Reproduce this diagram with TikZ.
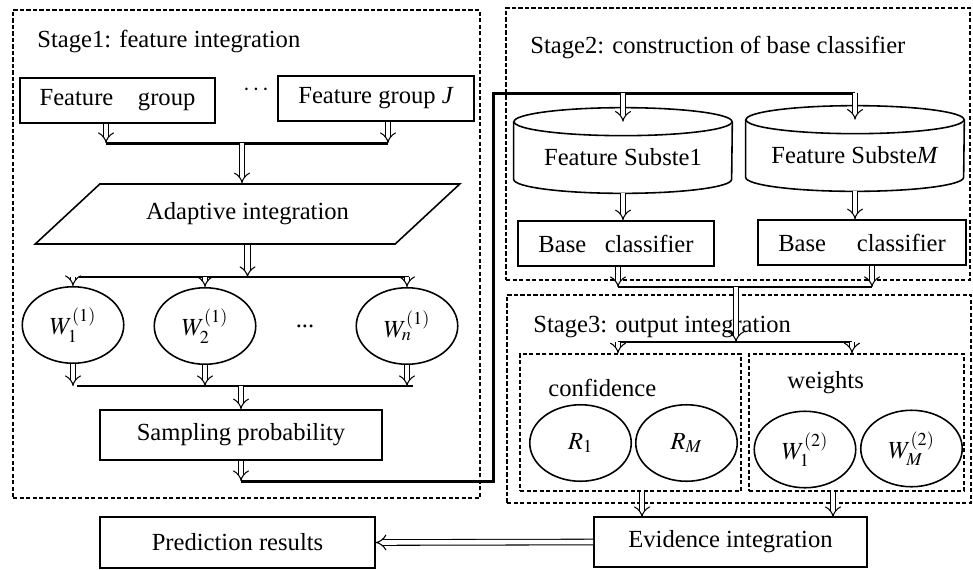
\documentclass[tikz,border=0pt]{standalone}
\usepackage{mathptmx}
\usepackage{fontspec}
\setmainfont{Liberation Serif}
\usetikzlibrary{arrows.meta,shapes.geometric,calc}

\begin{document}
\begin{tikzpicture}[
  x=0.02cm, y=-0.02cm,
  every node/.append style={font=\fontsize{14}{16}\selectfont},
  box/.style={draw,line width=0.9pt,inner sep=2pt},
  oval/.style={draw,ellipse,line width=0.9pt,minimum width=2.03cm,minimum height=1.53cm,inner sep=0pt},
  stageframe/.style={draw,line width=0.8pt,dash pattern=on 2.4pt off 1.3pt},
  store/.style={minimum width=4.36cm,minimum height=1.42cm,inner sep=0pt},
  rim/.style={line width=0.9pt},
  dbl/.style={double,double distance=2.6pt,line width=0.6pt,-{Implies}},
  bus/.style={line width=1.7pt},
  wire/.style={line width=1.1pt},
  title/.style={anchor=west,inner sep=0pt}
]
  \useasboundingbox (0,0) rectangle (973,569);

  % stage frames
  \node[stageframe,minimum width=9.34cm,minimum height=9.76cm] (stageA) at (246.5,254) {};
  \node[stageframe,minimum width=9.28cm,minimum height=5.44cm] (stageB) at (738,144) {};
  \node[stageframe,minimum width=9.28cm,minimum height=4.16cm] (stageC) at (739,399) {};
  \node[title] (titleA) at (37,41) {Stage1: feature integration};
  \node[title] (titleB) at (530,47) {Stage2: construction of base classifier};
  \node[title] (titleC) at (533,327) {Stage3: output integration};

  % stage 1
  \node[box,minimum width=3.9cm,minimum height=0.9cm] (fg1) at (117.5,100.5) {Feature\quad group};
  \node (gdots) at (256,90) {$\cdots$};
  \node[box,minimum width=3.92cm,minimum height=0.9cm] (fgJ) at (376,98.5) {Feature group \textit{J}};
  \node[draw,line width=0.9pt,trapezium,trapezium left angle=36,trapezium right angle=144,
        trapezium stretches=true,minimum width=8.5cm,minimum height=1.2cm] (adapt) at (247.5,214) {Adaptive integration};
  \node[oval] (w1) at (73,325) {$W_1^{(1)}$};
  \node[oval] (w2) at (205,326) {$W_2^{(1)}$};
  \node (wdots) at (305,326) {...};
  \node[oval] (wn) at (407,326) {$W_n^{(1)}$};
  \node[box,minimum width=5.64cm,minimum height=1cm] (samp) at (241,435) {Sampling probability};

  % stage 2
  \node[store] (sub1) at (623,157.5) {Feature Subste1};
  \node[store] (sub2) at (855,155.5) {Feature Subste\textit{M}};
  \foreach \s in {sub1,sub2} {
    \draw[rim] (\s.north west) -- ($(\s.south west)+(0,-14)$)
      arc[start angle=180,end angle=360,x radius=2.18cm,y radius=0.28cm] -- (\s.north east);
    \draw[rim] (\s.north) ellipse[x radius=2.18cm,y radius=0.28cm];
  }
  \node[box,minimum width=3.92cm,minimum height=0.9cm] (base1) at (616,243.5) {Base\hspace{0.75em}classifier};
  \node[box,minimum width=4.16cm,minimum height=0.9cm] (base2) at (862,242.5) {Base\hspace{1.25em}classifier};

  % stage 3
  \node[stageframe,minimum width=4.42cm,minimum height=2.74cm] (conf) at (630.5,422.5) {};
  \node[stageframe,minimum width=4.3cm,minimum height=2.74cm] (wgt) at (856.5,422.5) {};
  \node[title] (confT) at (548,388) {confidence};
  \node[title] (wgtT) at (787,383) {weights};
  \node[oval] (r1) at (580.5,443) {$R_1$};
  \node[oval] (rM) at (686.5,443) {$R_M$};
  \node[oval] (u1) at (805,449.5) {$W_1^{(2)}$};
  \node[oval] (uM) at (911.5,448.5) {$W_M^{(2)}$};

  \node[box,minimum width=5.46cm,minimum height=1cm] (eva) at (730.5,542) {Evidence integration};
  \node[box,minimum width=5.5cm,minimum height=1.02cm] (pred) at (237.5,542.5) {Prediction results};

  % junctions
  \coordinate (busAl) at (106,143);
  \coordinate (busAr) at (388,143);
  \coordinate (busA) at (242,143);
  \coordinate (busBl) at (79,277);
  \coordinate (busBr) at (409,277);
  \coordinate (busCl) at (77,386);
  \coordinate (busCr) at (413,386);
  \coordinate (feedA) at (493,481);
  \coordinate (feedB) at (493,93);
  \coordinate (busDl) at (618,287);
  \coordinate (busDr) at (872,287);
  \coordinate (busD) at (736,287);
  \coordinate (busEl) at (618,342);
  \coordinate (busEr) at (852,342);
  \coordinate (busE) at (736,342);
  \coordinate (outL) at (642,517);
  \coordinate (outR) at (833,517);

  % stage 1 connectors
  \draw[dbl] (busAl |- fg1.south) -- (busAl);
  \draw[dbl] (busAr |- fgJ.south) -- (busAr);
  \draw[bus] (busAl) -- (busAr);
  \draw[dbl] (busA) -- (busA |- adapt.north);
  \draw[dbl] (adapt.south) -- (adapt.south |- busBl);
  \draw[wire] (busBl) -- (busBr);
  \foreach \w in {w1,w2,wn}
    \draw[dbl] (\w.north |- busBl) -- (\w.north);
  \foreach \w in {w1,w2,wn}
    \draw[dbl] (\w.south) -- (\w.south |- busCl);
  \draw[wire] (busCl) -- (busCr);
  \draw[dbl] (samp.north |- busCl) -- (samp.north);

  % feed to stage 2
  \draw[dbl] (samp.south) -- (samp.south |- feedA);
  \draw[bus] (samp.south |- feedA) -- (feedA) -- (feedB) -- (sub2.north |- feedB);
  \draw[dbl] (sub1.north |- feedB) -- (sub1.north);
  \draw[dbl] (sub2.north |- feedB) -- (sub2.north);
  \draw[dbl] (sub1.south) -- (sub1.south |- base1.north);
  \draw[dbl] (sub2.south) -- (sub2.south |- base2.north);

  % stage 2 to stage 3
  \draw[dbl] (busDl |- base1.south) -- (busDl);
  \draw[dbl] (busDr |- base2.south) -- (busDr);
  \draw[wire] (busDl) -- (busDr);
  \draw[dbl] (busD) -- (busE);
  \draw[wire] (busEl) -- (busEr);
  \draw[dbl] (busEl) -- (busEl |- conf.north);
  \draw[dbl] (busEr) -- (busEr |- wgt.north);

  % output
  \draw[dbl] (outL |- conf.south) -- (outL);
  \draw[dbl] (outR |- wgt.south) -- (outR);
  \draw[dbl] (eva.west) -- (pred.east);
\end{tikzpicture}
\end{document}
